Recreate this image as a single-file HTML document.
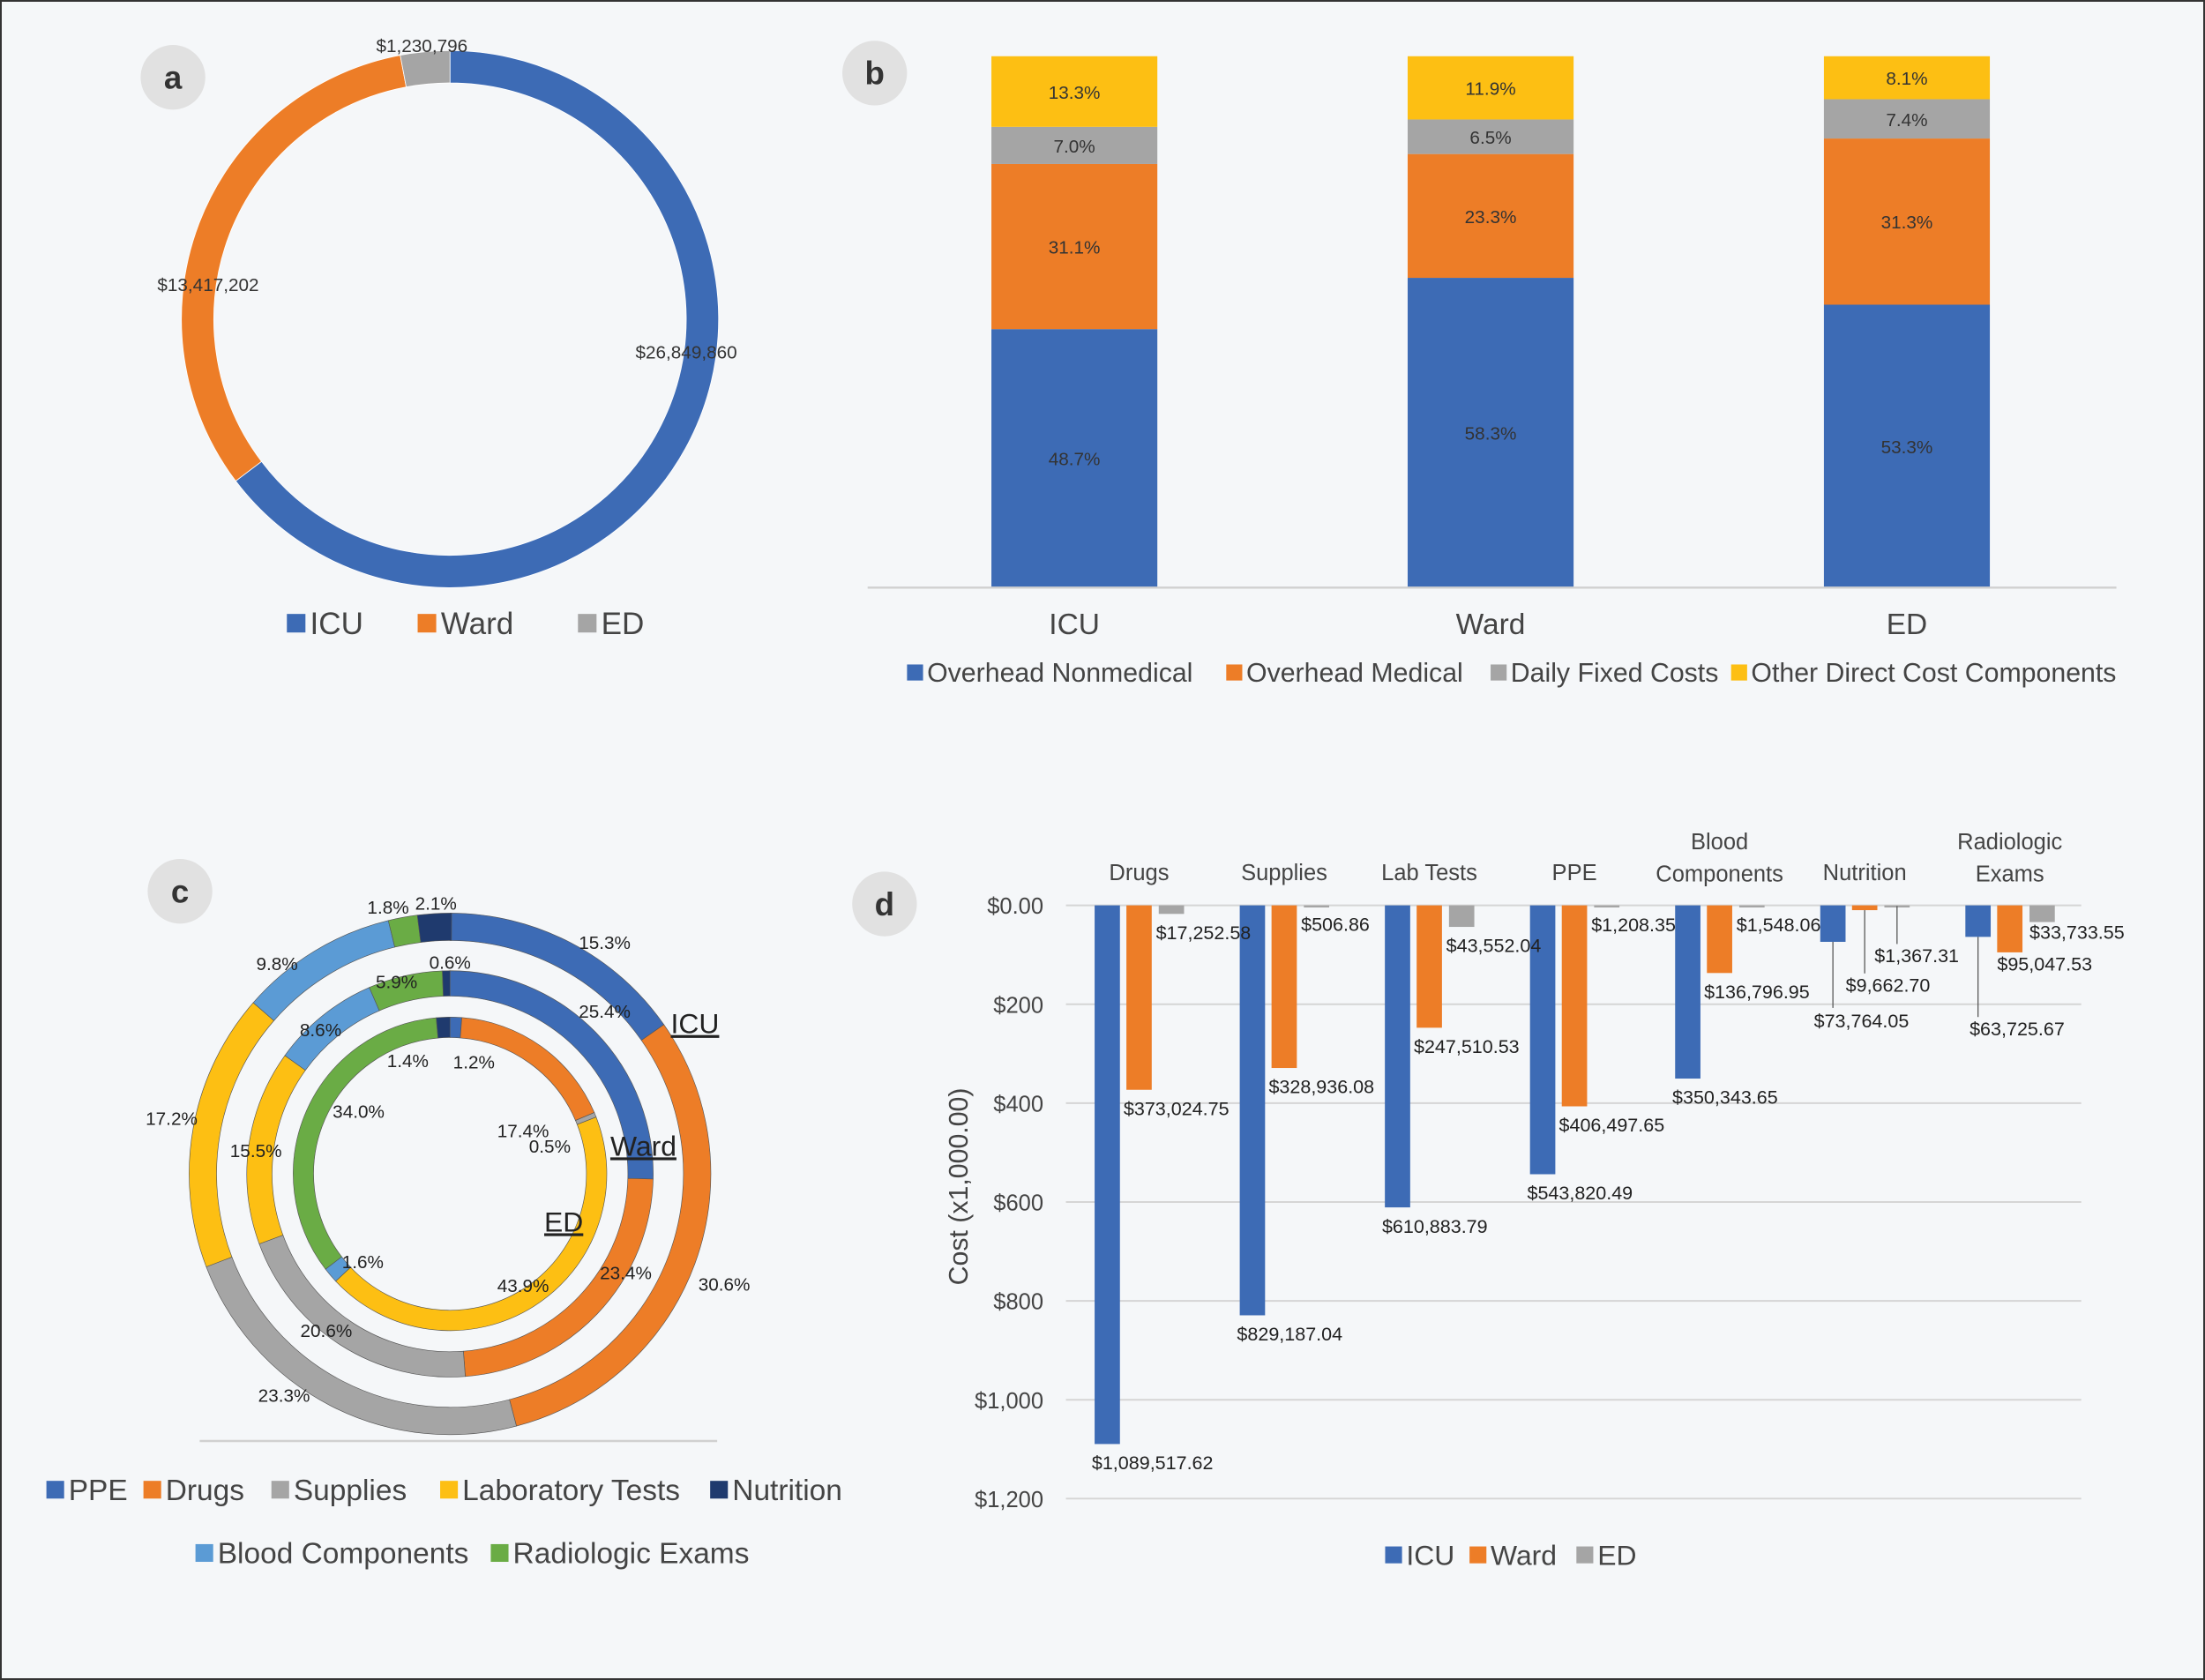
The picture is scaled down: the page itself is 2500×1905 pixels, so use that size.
<!DOCTYPE html>
<html><head><meta charset="utf-8"><style>
html,body{margin:0;padding:0;background:#f5f7f9}
svg{display:block}
text{font-family:"Liberation Sans",sans-serif}
</style></head><body>
<svg id="s" width="2500" height="1905" viewBox="0 0 1568 1195" preserveAspectRatio="none" xmlns="http://www.w3.org/2000/svg">
<rect x="0.5" y="0.5" width="1567" height="1194" fill="#f5f7f9" stroke="#333" stroke-width="1.5"/>
<g id="g"></g>
<g id="lab"></g>
</svg>
<script>
const NS='http://www.w3.org/2000/svg';
const G=document.getElementById('g');
const LAB=document.getElementById('lab');
function el(t,a,p){const e=document.createElementNS(NS,t);for(const k in a)e.setAttribute(k,a[k]);(p||G).appendChild(e);return e;}
function txt(x,y,s,size,anchor,fill,name,parent){const e=el('text',{x:x,y:y,'font-size':size,'text-anchor':anchor||'middle',fill:fill||'#333'},parent);e.textContent=s;


return e;}
const C={blue:'#3d6bb5',orange:'#ed7d27',gray:'#a5a5a5',yellow:'#fdbf13',navy:'#1f3a6e',lblue:'#5b9bd5',green:'#6aac45'};
function arc(cx,cy,r0,r1,a0,a1){
 const A=f=>f*2*Math.PI-Math.PI/2;const p=(r,f)=>[cx+r*Math.cos(A(f)),cy+r*Math.sin(A(f))];
 const L=(a1-a0)>0.5?1:0;const [x1,y1]=p(r1,a0),[x2,y2]=p(r1,a1),[x3,y3]=p(r0,a1),[x4,y4]=p(r0,a0);
 return `M${x1} ${y1}A${r1} ${r1} 0 ${L} 1 ${x2} ${y2}L${x3} ${y3}A${r0} ${r0} 0 ${L} 0 ${x4} ${y4}Z`;}
function badge(x,y,l){const c=el('circle',{cx:x,cy:y,r:23,fill:'#e1e1e1'});txt(x,y+8,l,23,'middle','#333','panel-letter-'+l).setAttribute('font-weight','bold');}
function legend(x,y,color,label,size){const r=el('rect',{x:x,y:y-size*0.65,width:size*0.6,height:size*0.6,fill:color});txt(x+size*0.75,y,label,size,'start','#444','legend-entry');}

// ---------- Panel a ----------
const aCats=['ICU','Ward','ED'];
const aVals=[26849860,13417202,1230796];
const aLabels=['$26,849,860','$13,417,202','$1,230,796'];
badge(123,55,'a');
{const tot=aVals.reduce((a,b)=>a+b,0);let s=0;const cols=[C.blue,C.orange,C.gray];
 const lp=[[488,255],[148,207],[300,37]];
 aVals.forEach((v,i)=>{const p=el('path',{d:arc(320,227,168,191,s,s+v/tot),fill:cols[i],stroke:'#fff','stroke-width':0.5});
 
 s+=v/tot;txt(lp[i][0],lp[i][1],aLabels[i],13,'middle','#333','slice-value-label');});
 legend(204,451,C.blue,'ICU',22);legend(297,451,C.orange,'Ward',22);legend(411,451,C.gray,'ED',22);}

// ---------- Panel b ----------
const bCats=['ICU','Ward','ED'];
const bSeries=['Overhead Nonmedical','Overhead Medical','Daily Fixed Costs','Other Direct Cost Components'];
const bNonmed=[48.7,58.3,53.3];
const bMed=[31.1,23.3,31.3];
const bFixed=[7.0,6.5,7.4];
const bOther=[13.3,11.9,8.1];
badge(622,52,'b');
{const y0=418,y1=40;const cx=[764,1060,1356];const cols=[C.blue,C.orange,C.gray,C.yellow];
 const ser=[bNonmed,bMed,bFixed,bOther];
 bCats.forEach((c,i)=>{let tot=ser.reduce((a,s)=>a+s[i],0);let acc=0;
  ser.forEach((s,k)=>{const h=(y0-y1)*s[i]/tot;const y=y0-acc-h;
   const r=el('rect',{x:cx[i]-59,y:y,width:118,height:h,fill:cols[k]});
   
   txt(cx[i],y+h/2+5,s[i].toFixed(1)+'%',13,'middle','#333','bar-value-label');acc+=h;});
  txt(cx[i],451,c,21,'middle','#444','x-tick-label');});
 const l=el('line',{x1:617,x2:1505,y1:418,y2:418,stroke:'#d0d0d0','stroke-width':1.5});
 legend(645,485,C.blue,bSeries[0],19);legend(872,485,C.orange,bSeries[1],19);legend(1060,485,C.gray,bSeries[2],19);legend(1231,485,C.yellow,bSeries[3],19);}

// ---------- Panel c ----------
const cCats=['PPE','Drugs','Supplies','Laboratory Tests','Blood Components','Radiologic Exams','Nutrition'];
const cICU=[15.3,30.6,23.3,17.2,9.8,1.8,2.1];
const cWard=[25.4,23.4,20.6,15.5,8.6,5.9,0.6];
const cED=[1.2,17.4,0.5,43.9,1.6,34.0,1.4];
badge(128,634,'c');
{const cols=[C.blue,C.orange,C.gray,C.yellow,C.lblue,C.green,C.navy];const cx=320,cy=835;
 const rings=[[cICU,166,185.5,'icu'],[cWard,126.5,144.5,'ward'],[cED,97,111.5,'ed']];
 const lbl=[[[430,675],[515,918],[202,997],[122,800],[197,690],[276,650],[310,647]],
  [[430,724],[445,910],[232,951],[182,823],[228,737],[282,703],[320,689]],
  [[337,760],[372,809],[391,820],[372,919],[258,902],[255,795],[290,759]]];
 rings.forEach(([vals,r0,r1,n],ri)=>{let s=0;vals.forEach((v,i)=>{const p=el('path',{d:arc(cx,cy,r0,r1,s,s+v/100),fill:cols[i],stroke:'#555','stroke-width':0.4});
  s+=v/100;
  txt(lbl[ri][i][0],lbl[ri][i][1],v.toFixed(1)+'%',13,'middle','#222','segment-label');});});
 const t1=txt(477,735,'ICU',20,'start','#222','ring-label-icu');t1.setAttribute('text-decoration','underline');
 const t2=txt(434,822,'Ward',20,'start','#222','ring-label-ward');t2.setAttribute('text-decoration','underline');
 const t3=txt(387,876,'ED',20,'start','#222','ring-label-ed');t3.setAttribute('text-decoration','underline');
 const l=el('line',{x1:142,x2:510,y1:1025,y2:1025,stroke:'#d0d0d0','stroke-width':1.5});
 legend(33,1067,C.blue,'PPE',21);legend(102,1067,C.orange,'Drugs',21);legend(193,1067,C.gray,'Supplies',21);legend(313,1067,C.yellow,'Laboratory Tests',21);legend(505,1067,C.navy,'Nutrition',21);
 legend(139,1112,C.lblue,'Blood Components',21);legend(349,1112,C.green,'Radiologic Exams',21);}

// ---------- Panel d ----------
const dCats=[['Drugs'],['Supplies'],['Lab Tests'],['PPE'],['Blood','Components'],['Nutrition'],['Radiologic','Exams']];
const dICU=[1089517.62,829187.04,610883.79,543820.49,350343.65,73764.05,63725.67];
const dWard=[373024.75,328936.08,247510.53,406497.65,136796.95,9662.70,95047.53];
const dED=[17252.58,506.86,43552.04,1208.35,1548.06,1367.31,33733.55];
const dTicks=[0,200,400,600,800,1000,1200];
const dTickLabels=['$0.00','$200','$400','$600','$800','$1,000','$1,200'];
badge(629,643,'d');
{const y0=644,y1=1066,x0=758,x1=1480;const Y=v=>y0+(y1-y0)*v/1200;const step=103.2;
 dTicks.forEach((t,i)=>{const l=el('line',{x1:x0,x2:x1,y1:Y(t),y2:Y(t),stroke:'#d5d5d5','stroke-width':1.2});
  txt(742,Y(t)+6,dTickLabels[i],16,'end','#444','y-tick-label');});
 const yt=txt(0,0,'Cost (x1,000.00)',19,'middle','#444','y-axis-title');yt.setAttribute('transform','translate(688,844) rotate(-90)');
 const fmt=v=>'$'+v.toLocaleString('en-US',{minimumFractionDigits:2,maximumFractionDigits:2});
 const series=[[dICU,C.blue,-22.6,'icu'],[dWard,C.orange,0,'ward'],[dED,C.gray,23,'ed']];
 // label layout overrides for small bars: [category, series, dx, label dy, leader dy]
 const special={'5-0':[-4.5,61,47],'5-1':[-4.5,58,45],'5-2':[-7,40,27],'6-0':[3,70,57],'6-1':[0,13,0],'6-2':[0,12,0]};
 dCats.forEach((c,i)=>{const cx=810+step*i;
  if(c.length===1)txt(cx,626,c[0],16,'middle','#444','category-label');else{txt(cx,604,c[0],16,'middle','#444','category-label');txt(cx,627,c[1],16,'middle','#444','category-label');}
  series.forEach(([arr,col,dx,n],k)=>{const bx=cx+dx;const v=arr[i]/1000;const yb=Y(v);
   const r=el('rect',{x:bx-9,y:y0,width:18,height:Math.max(yb-y0,1.5),fill:col});
   
   let lx=bx-11,ly=yb+18;
   const sp=special[i+'-'+k];
   if(sp){lx=bx-9+sp[0];ly=yb+sp[1];
     if(sp[2]>0){const ln=el('line',{x1:bx,x2:bx,y1:yb,y2:yb+sp[2],stroke:'#555','stroke-width':0.8});}}
   txt(lx,ly,fmt(arr[i]),13.5,'start','#222','bar-value-label',LAB);});});
 legend(985,1113,C.blue,'ICU',20);legend(1045,1113,C.orange,'Ward',20);legend(1121,1113,C.gray,'ED',20);}
</script>
</body></html>
